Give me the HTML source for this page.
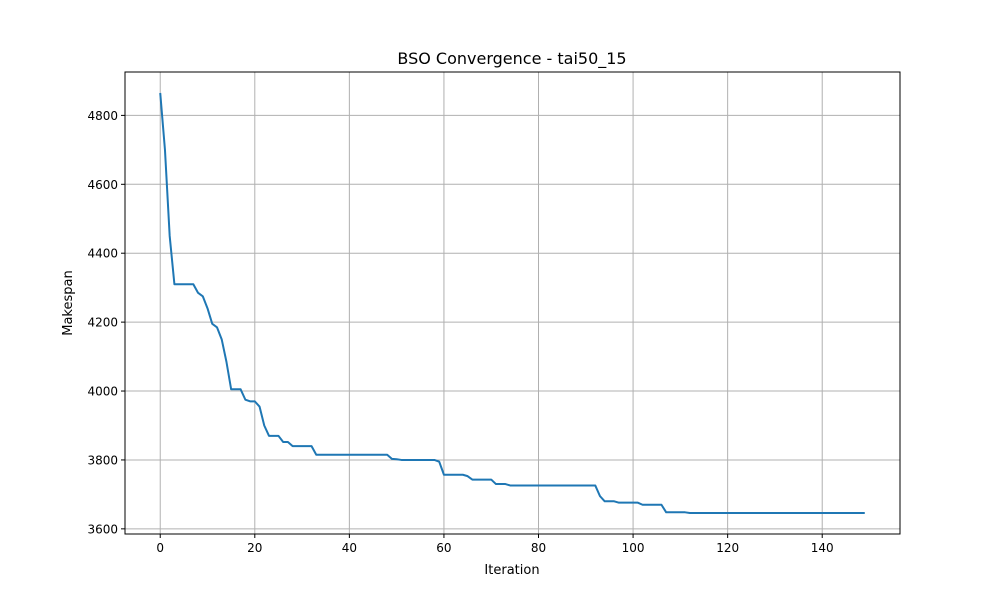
<!DOCTYPE html>
<html><head><meta charset="utf-8"><style>
body{margin:0;background:#fff;}
svg text{font-family:"DejaVu Sans","Liberation Sans",sans-serif;fill:#000;}
</style></head><body>
<svg id="chart" width="1000" height="600">
<rect x="0" y="0" width="1000" height="600" fill="#fff"/>
<g id="grid"></g>
<g id="ticks"></g>
<path id="line" fill="none" stroke="#1f77b4" stroke-width="2" stroke-linejoin="round"/>
<rect x="125" y="72" width="775" height="462" fill="none" stroke="#000" stroke-width="1"/>
<text x="512" y="64" font-size="16" text-anchor="middle">BSO Convergence - tai50_15</text>
<text x="512" y="574" font-size="13" text-anchor="middle">Iteration</text>
<text x="72" y="303" font-size="13" text-anchor="middle" transform="rotate(-90 72 303)">Makespan</text>
</svg>
<script>
const makespan=[4865,4700,4450,4310,4310,4310,4310,4310,4285,4275,4240,4195,4185,4150,4085,4005,4005,4005,3975,3970,3970,3955,3900,3870,3870,3870,3852,3852,3840,3840,3840,3840,3840,3815,3815,3815,3815,3815,3815,3815,3815,3815,3815,3815,3815,3815,3815,3815,3815,3803,3802,3800,3800,3800,3800,3800,3800,3800,3800,3795,3757,3757,3757,3757,3757,3753,3743,3743,3743,3743,3743,3730,3730,3730,3726,3726,3726,3726,3726,3726,3726,3726,3726,3726,3726,3726,3726,3726,3726,3726,3726,3726,3726,3695,3680,3680,3680,3676,3676,3676,3676,3676,3670,3670,3670,3670,3670,3648,3648,3648,3648,3648,3646,3646,3646,3646,3646,3646,3646,3646,3646,3646,3646,3646,3646,3646,3646,3646,3646,3646,3646,3646,3646,3646,3646,3646,3646,3646,3646,3646,3646,3646,3646,3646,3646,3646,3646,3646,3646,3646];
const xTicks=[0,20,40,60,80,100,120,140];
const yTicks=[3600,3800,4000,4200,4400,4600,4800];
const L=125,R=900,T=72,B=534;
const n=makespan.length;
const xmin=-(n-1)*0.05,xmax=(n-1)*1.05;
const dmin=Math.min(...makespan),dmax=Math.max(...makespan),pad=(dmax-dmin)*0.05;
const ymin=dmin-pad,ymax=dmax+pad;
const sx=v=>L+(v-xmin)/(xmax-xmin)*(R-L);
const sy=v=>B-(v-ymin)/(ymax-ymin)*(B-T);
const NS="http://www.w3.org/2000/svg";
const grid=document.getElementById('grid'),ticks=document.getElementById('ticks');
function mk(tag,attrs,parent){const e=document.createElementNS(NS,tag);for(const k in attrs)e.setAttribute(k,attrs[k]);parent.appendChild(e);return e;}
xTicks.forEach(t=>{const x=sx(t);
const g=mk('line',{x1:x,x2:x,y1:T,y2:B,stroke:'#b0b0b0','stroke-width':1},grid);


mk('line',{x1:x,x2:x,y1:B,y2:B+4,stroke:'#000'},ticks);
const tx=mk('text',{x:x,y:B+18,'font-size':12,'text-anchor':'middle'},ticks);tx.textContent=t;

});
yTicks.forEach(t=>{const y=sy(t);
const g=mk('line',{x1:L,x2:R,y1:y,y2:y,stroke:'#b0b0b0','stroke-width':1},grid);


mk('line',{x1:L-4,x2:L,y1:y,y2:y,stroke:'#000'},ticks);
const tx=mk('text',{x:L-7,y:y+4.5,'font-size':12,'text-anchor':'end'},ticks);tx.textContent=t;

});
document.getElementById('line').setAttribute('d',makespan.map((v,i)=>(i?'L':'M')+sx(i).toFixed(2)+' '+sy(v).toFixed(2)).join(''));
</script>
</body></html>
